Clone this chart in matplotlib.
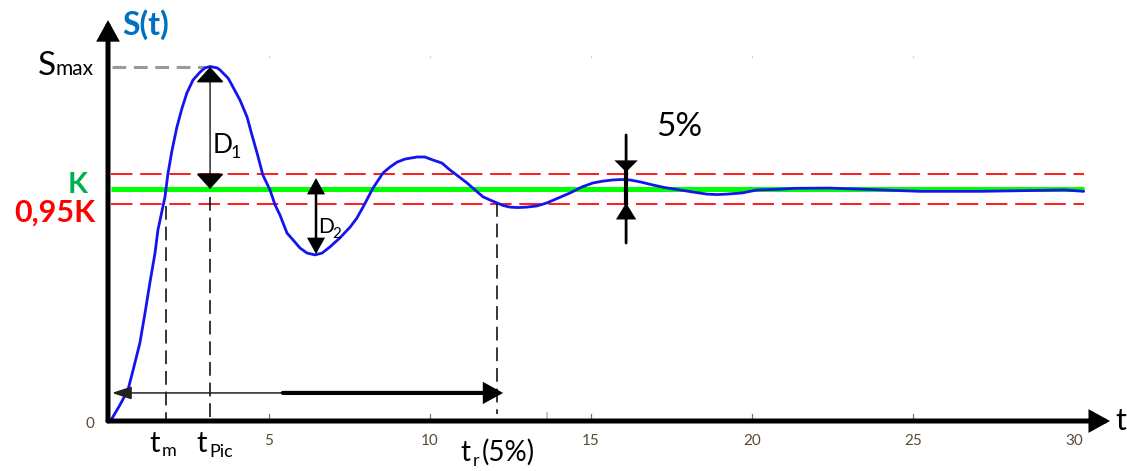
import matplotlib
matplotlib.use("Agg")
import matplotlib.pyplot as plt
from matplotlib.patches import FancyArrowPatch

plt.rcParams['font.family'] = ['Lato', 'DejaVu Sans']

# ---------------- data ----------------
t_curve = [0.12, 0.37, 0.62, 0.78, 0.99, 1.15, 1.30, 1.46, 1.55, 1.77, 1.86, 1.99,
           2.14, 2.30, 2.45, 2.64, 2.86, 3.01, 3.17, 3.39, 3.48, 3.73, 3.88, 4.10,
           4.32, 4.47, 4.63, 4.81, 5.03, 5.19, 5.34, 5.56, 5.75, 5.96, 6.18, 6.43,
           6.65, 6.89, 7.20, 7.52, 7.73, 7.92, 8.23, 8.54, 8.76, 8.98, 9.22, 9.60,
           9.84, 10.09, 10.37, 10.62, 10.87, 11.15, 11.40, 11.65, 11.86, 12.08, 12.27,
           12.48, 12.73, 13.01, 13.32, 13.63, 13.98, 14.35, 14.72, 15.06, 15.37, 15.68,
           15.96, 16.21, 16.55, 16.93, 17.30, 17.76, 18.17, 18.60, 18.91, 19.22, 19.69,
           20.16, 20.71, 21.34, 22.40, 23.66, 25.20, 27.10, 28.90, 29.70, 30.30]
s_curve = [0.01, 0.069, 0.134, 0.22, 0.336, 0.466, 0.595, 0.724, 0.823, 0.966, 1.065, 1.168,
           1.267, 1.349, 1.414, 1.470, 1.504, 1.522, 1.528, 1.522, 1.513, 1.478, 1.440, 1.383,
           1.310, 1.233, 1.155, 1.060, 0.996, 0.931, 0.888, 0.810, 0.780, 0.746, 0.724, 0.716,
           0.724, 0.750, 0.789, 0.836, 0.875, 0.922, 1.004, 1.069, 1.095, 1.116, 1.129, 1.138,
           1.138, 1.125, 1.112, 1.082, 1.056, 1.026, 0.996, 0.966, 0.953, 0.940, 0.929,
           0.922, 0.920, 0.922, 0.927, 0.940, 0.961, 0.983, 1.009, 1.026, 1.034, 1.039,
           1.041, 1.039, 1.030, 1.017, 1.006, 0.996, 0.987, 0.978, 0.976, 0.978, 0.983,
           0.996, 0.998, 1.003, 1.004, 0.998, 0.990, 0.990, 0.994, 0.996, 0.990]

K = 1.0
band_hi = 1.065
band_lo = 0.935
s_max = 1.526
t_end = 30.3

t_m = 1.80
t_pic = 3.17
t_r = 12.08

xtick_vals = [5, 10, 15, 20, 25, 30]
xtick_labels = ['5', '10', '15', '20', '25', '30']

# ---------------- figure ----------------
fig = plt.figure(figsize=(11.27, 4.71), dpi=100)
ax = fig.add_axes([0, 0, 1, 1])
ax.set_xlim(-3.354, 31.646)
ax.set_ylim(-0.2155, 1.8147)
ax.axis('off')


def arrow(x0, y0, x1, y1, lw, hl, hw, color='black', style='-|>', z=5):
    p = FancyArrowPatch((x0, y0), (x1, y1),
                        arrowstyle=f"{style},head_length={hl},head_width={hw}",
                        mutation_scale=1, lw=lw, color=color,
                        shrinkA=0, shrinkB=0, zorder=z, joinstyle='miter')
    ax.add_patch(p)


# band lines and K
ax.plot([0.1, t_end], [band_hi, band_hi], color='#ff1a1a', lw=1.4, dashes=(11, 4), zorder=2)
ax.plot([0.1, t_end], [band_lo, band_lo], color='#ff1a1a', lw=1.4, dashes=(11, 4), zorder=2)
ax.plot([0.1, t_end], [K, K], color='#00ff00', lw=3.6, solid_capstyle='butt', zorder=2)

# response curve
ax.plot(t_curve, s_curve, color='#1414f0', lw=2.0, zorder=4,
        solid_joinstyle='round', solid_capstyle='round')

# Smax dashed
ax.plot([0.12, 3.0], [s_max, s_max], color='#9a9a9a', lw=2.2, dashes=(4.5, 2.5), zorder=3)

# vertical dashed guides
ax.plot([t_m, t_m], [0.925, 0.01], color='black', lw=1.1, dashes=(9, 4.5), zorder=3)
ax.plot([t_pic, t_pic], [0.965, 0.01], color='black', lw=1.1, dashes=(9, 4.5), zorder=3)
ax.plot([t_r, t_r], [0.94, 0.03], color='black', lw=1.1, dashes=(9, 4.5), zorder=3)

# axes
arrow(0, 0, 0, 1.728, lw=3.6, hl=10, hw=5.5)
arrow(0, 0, 31.12, 0, lw=3.6, hl=10, hw=5.5)
# small ticks
for xv in [5, 10, 15, 20, 25]:
    ax.plot([xv, xv], [0.012, 0.03], color='#777777', lw=0.9, zorder=1)
ax.plot([13.63, 13.63], [0.012, 0.035], color='#bbbbbb', lw=1.2, zorder=1)
for xv in [5, 10, 15, 20, 25]:
    ax.plot([xv, xv], [1.567, 1.572], color='#d0d0d0', lw=0.8, zorder=1)

# D1 double arrow
arrow(t_pic, 1.0, t_pic, s_max, lw=0.9, hl=10, hw=9, style='<|-|>')
# D2 double arrow
arrow(6.46, 0.72, 6.46, 1.047, lw=1.8, hl=9, hw=5, style='<|-|>')

# 5% arrows
arrow(16.09, 1.233, 16.09, 1.073, lw=2.0, hl=6, hw=6)
ax.plot([16.09, 16.09], [1.073, 0.94], color='black', lw=3.0, zorder=5)
arrow(16.09, 0.767, 16.09, 0.94, lw=2.0, hl=9, hw=5.5)

# horizontal time arrow
y_h = 0.121
t_thick = 5.43
arrow(t_thick, y_h, 0.124, y_h, lw=1.1, hl=12, hw=4, color='#222222')
arrow(t_thick, y_h, 12.27, y_h, lw=3.0, hl=10, hw=5.5)

# ---------------- texts ----------------
def txt(x, y, s, size, color='black', weight='normal', ha='left', va='baseline'):
    ax.text(x, y, s, fontsize=size, color=color, fontweight=weight, ha=ha, va=va, zorder=6)

txt(0.435, 1.707, 'S(t)', 23, color='#0070c0', weight='bold', va='center')
txt(-2.174, 1.491, 'S', 24)
txt(-1.615, 1.491, 'max', 15)
txt(-0.621, 0.983, 'K', 21, color='#00b050', weight='bold', ha='right')
txt(-0.404, 0.858, '0,95K', 22, color='#ff0000', weight='bold', ha='right')

txt(3.26, 1.155, 'D', 19)
txt(3.82, 1.134, '1', 13)
txt(6.52, 0.81, 'D', 15)
txt(6.98, 0.789, '2', 11)
txt(17.02, 1.228, '5%', 24)

# tick labels
txt(-0.559, -0.013, '0', 11, color='#5a4a3a', ha='center', va='center')
for xv, lab in zip(xtick_vals, xtick_labels):
    txt(xv, -0.086, lab, 11, color='#5a4a3a', ha='center', va='center')

txt(31.27, 0.0, 't', 22, va='center')
txt(1.30, -0.134, 't', 21)
txt(1.68, -0.151, 'm', 13)
txt(2.76, -0.134, 't', 21)
txt(3.15, -0.155, 'Pic', 13)
txt(10.93, -0.172, 't', 20)
txt(11.32, -0.192, 'r', 13)
txt(11.62, -0.172, '(5%)', 20)

fig.savefig('out.png', dpi=100)
